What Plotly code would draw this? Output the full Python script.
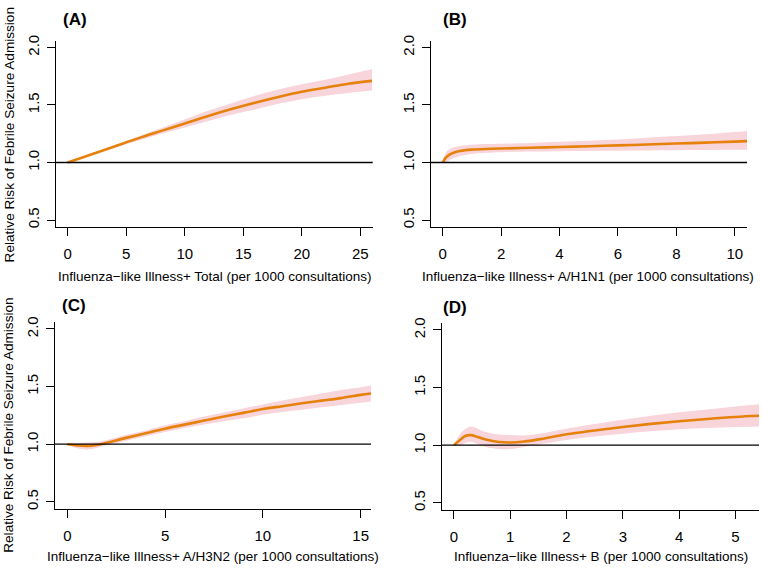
import plotly.graph_objects as go

# ---------------- data ----------------
a_x = [0, 2, 4, 6, 8, 10, 12, 14, 16, 18, 20, 22, 24, 26]
a_rr = [1.0, 1.07, 1.14, 1.21, 1.275, 1.34, 1.405, 1.465, 1.52, 1.57, 1.615, 1.65, 1.685, 1.71]
a_lo = [1.0, 1.065, 1.13, 1.19, 1.25, 1.305, 1.36, 1.415, 1.46, 1.51, 1.55, 1.58, 1.605, 1.625]
a_hi = [1.0, 1.075, 1.15, 1.225, 1.30, 1.375, 1.45, 1.515, 1.58, 1.635, 1.68, 1.72, 1.765, 1.81]

b_x = [0, 0.1, 0.2, 0.3, 0.5, 0.75, 1, 1.5, 2, 3, 4, 5, 6, 7, 8, 9, 10, 10.42]
b_rr = [1.0, 1.04, 1.062, 1.077, 1.095, 1.106, 1.112, 1.118, 1.122, 1.128, 1.135, 1.142, 1.149, 1.157, 1.165, 1.173, 1.182, 1.186]
b_lo = [1.0, 1.0, 1.015, 1.03, 1.05, 1.065, 1.075, 1.085, 1.09, 1.095, 1.098, 1.10, 1.102, 1.104, 1.106, 1.108, 1.11, 1.11]
b_hi = [1.0, 1.08, 1.11, 1.125, 1.14, 1.15, 1.155, 1.16, 1.163, 1.17, 1.18, 1.19, 1.20, 1.215, 1.23, 1.245, 1.265, 1.275]

c_x = [0, 0.5, 1, 1.5, 2, 3, 4, 5, 6, 7, 8, 9, 10, 11, 12, 13, 14, 15, 15.53]
c_rr = [1.0, 0.99, 0.985, 0.993, 1.012, 1.055, 1.095, 1.135, 1.17, 1.205, 1.24, 1.272, 1.305, 1.33, 1.355, 1.378, 1.40, 1.428, 1.44]
c_lo = [1.0, 0.965, 0.955, 0.968, 0.99, 1.03, 1.07, 1.105, 1.14, 1.17, 1.20, 1.225, 1.255, 1.28, 1.30, 1.32, 1.34, 1.36, 1.37]
c_hi = [1.0, 1.01, 1.015, 1.02, 1.035, 1.08, 1.12, 1.165, 1.20, 1.24, 1.275, 1.31, 1.345, 1.38, 1.41, 1.44, 1.47, 1.495, 1.51]

d_x = [0, 0.1, 0.2, 0.3, 0.4, 0.5, 0.6, 0.8, 1.0, 1.25, 1.5, 2, 2.5, 3, 3.5, 4, 4.5, 5, 5.42]
d_rr = [1.0, 1.043, 1.08, 1.087, 1.075, 1.058, 1.045, 1.028, 1.024, 1.032, 1.05, 1.095, 1.128, 1.158, 1.185, 1.208, 1.228, 1.245, 1.255]
d_lo = [1.0, 1.0, 1.02, 1.03, 1.015, 0.995, 0.98, 0.968, 0.966, 0.985, 1.005, 1.045, 1.075, 1.10, 1.12, 1.138, 1.15, 1.158, 1.163]
d_hi = [1.0, 1.09, 1.14, 1.163, 1.15, 1.125, 1.11, 1.092, 1.088, 1.085, 1.098, 1.143, 1.185, 1.22, 1.255, 1.285, 1.31, 1.335, 1.355]

x_ticks_a = [0, 5, 10, 15, 20, 25]
x_ticks_b = [0, 2, 4, 6, 8, 10]
x_ticks_c = [0, 5, 10, 15]
x_ticks_d = [0, 1, 2, 3, 4, 5]
y_ticks = [0.5, 1.0, 1.5, 2.0]
y_tick_text = ["0.5", "1.0", "1.5", "2.0"]
ref_value = 1.0

panel_labels = ["(A)", "(B)", "(C)", "(D)"]
x_titles = [
    "Influenza\u2212like Illness+ Total (per 1000 consultations)",
    "Influenza\u2212like Illness+ A/H1N1 (per 1000 consultations)",
    "Influenza\u2212like Illness+ A/H3N2 (per 1000 consultations)",
    "Influenza\u2212like Illness+ B (per 1000 consultations)",
]
y_title = "Relative Risk of Febrile Seizure Admission"

# ---------------- layout geometry (pixels) ----------------
W, H = 762, 569
FONT = "Liberation Sans, Arial, Helvetica, sans-serif"
ORANGE = "#E6820C"
PINK = "#F8D4DB"

panels = [
    dict(x=a_x, rr=a_rr, lo=a_lo, hi=a_hi, xt=x_ticks_a, xr=[-1.0, 26.06], px=(56, 372.7), py=(35, 223.7)),
    dict(x=b_x, rr=b_rr, lo=b_lo, hi=b_hi, xt=x_ticks_b, xr=[-0.40, 10.42], px=(431, 747), py=(35, 223.7)),
    dict(x=c_x, rr=c_rr, lo=c_lo, hi=c_hi, xt=x_ticks_c, xr=[-0.645, 15.53], px=(54.7, 371), py=(320, 509)),
    dict(x=d_x, rr=d_rr, lo=d_lo, hi=d_hi, xt=x_ticks_d, xr=[-0.213, 5.42], px=(442, 759), py=(321, 510)),
]
label_pos = [(74.5, 14), (454.5, 14), (74, 303), (454.5, 305)]
xtitle_pos = [(214.5, 274), (588, 274), (212.5, 557), (600.5, 557)]
ytitle_pos = [(9, 131), (9, 425)]

fig = go.Figure()
layout = dict(
    width=W, height=H, margin=dict(l=0, r=0, t=0, b=0),
    paper_bgcolor="white", plot_bgcolor="white", showlegend=False,
    font=dict(family=FONT, size=13, color="black"),
)
shapes = []
annotations = []

for i, p in enumerate(panels):
    n = "" if i == 0 else str(i + 1)
    xa, ya = "x" + n, "y" + n
    fig.add_trace(go.Scatter(x=p["x"], y=p["lo"], mode="lines", line=dict(width=0, shape="spline"),
                             xaxis=xa, yaxis=ya, hoverinfo="skip"))
    fig.add_trace(go.Scatter(x=p["x"], y=p["hi"], mode="lines", line=dict(width=0, shape="spline"),
                             fill="tonexty", fillcolor=PINK, xaxis=xa, yaxis=ya, hoverinfo="skip"))
    fig.add_trace(go.Scatter(x=p["x"], y=p["rr"], mode="lines",
                             line=dict(color=ORANGE, width=2.6, shape="spline"), xaxis=xa, yaxis=ya))
    axis_common = dict(showline=True, linecolor="black", linewidth=1, showgrid=False, zeroline=False,
                       ticks="outside", ticklen=8, tickwidth=1, tickcolor="black",
                       tickfont=dict(family=FONT, size=15, color="black"))
    layout["xaxis" + n] = dict(axis_common, domain=[p["px"][0] / W, p["px"][1] / W], range=p["xr"],
                               anchor=ya, tickmode="array", tickvals=p["xt"],
                               ticktext=[str(t) for t in p["xt"]], ticklabelstandoff=5)
    layout["yaxis" + n] = dict(axis_common, domain=[1 - p["py"][1] / H, 1 - p["py"][0] / H], range=[0.44, 2.06],
                               anchor=xa, tickmode="array", tickvals=y_ticks, ticktext=y_tick_text,
                               tickangle=-90, ticklabelstandoff=2)
    shapes.append(dict(type="line", xref=xa + " domain", yref=ya, x0=0, x1=1, y0=ref_value, y1=ref_value,
                       line=dict(color="black", width=1.3), layer="above"))
    lx, ly = label_pos[i]
    annotations.append(dict(text="<b>%s</b>" % panel_labels[i], x=lx / W, y=1 - ly / H, xref="paper", yref="paper",
                            showarrow=False, xanchor="center", yanchor="middle",
                            font=dict(family=FONT, size=17, color="black")))
    tx, ty = xtitle_pos[i]
    annotations.append(dict(text=x_titles[i], x=tx / W, y=1 - ty / H, xref="paper", yref="paper",
                            showarrow=False, xanchor="center", yanchor="middle",
                            font=dict(family=FONT, size=13.5, color="black")))

for (tx, ty) in ytitle_pos:
    annotations.append(dict(text=y_title, x=tx / W, y=1 - ty / H, xref="paper", yref="paper",
                            showarrow=False, xanchor="center", yanchor="middle", textangle=-90,
                            font=dict(family=FONT, size=13.6, color="black")))

layout["shapes"] = shapes
layout["annotations"] = annotations
fig.update_layout(**layout)
fig.write_html("out.html", config={"displayModeBar": False},
               post_script="document.body.style.margin='0';document.body.style.overflow='hidden';")
